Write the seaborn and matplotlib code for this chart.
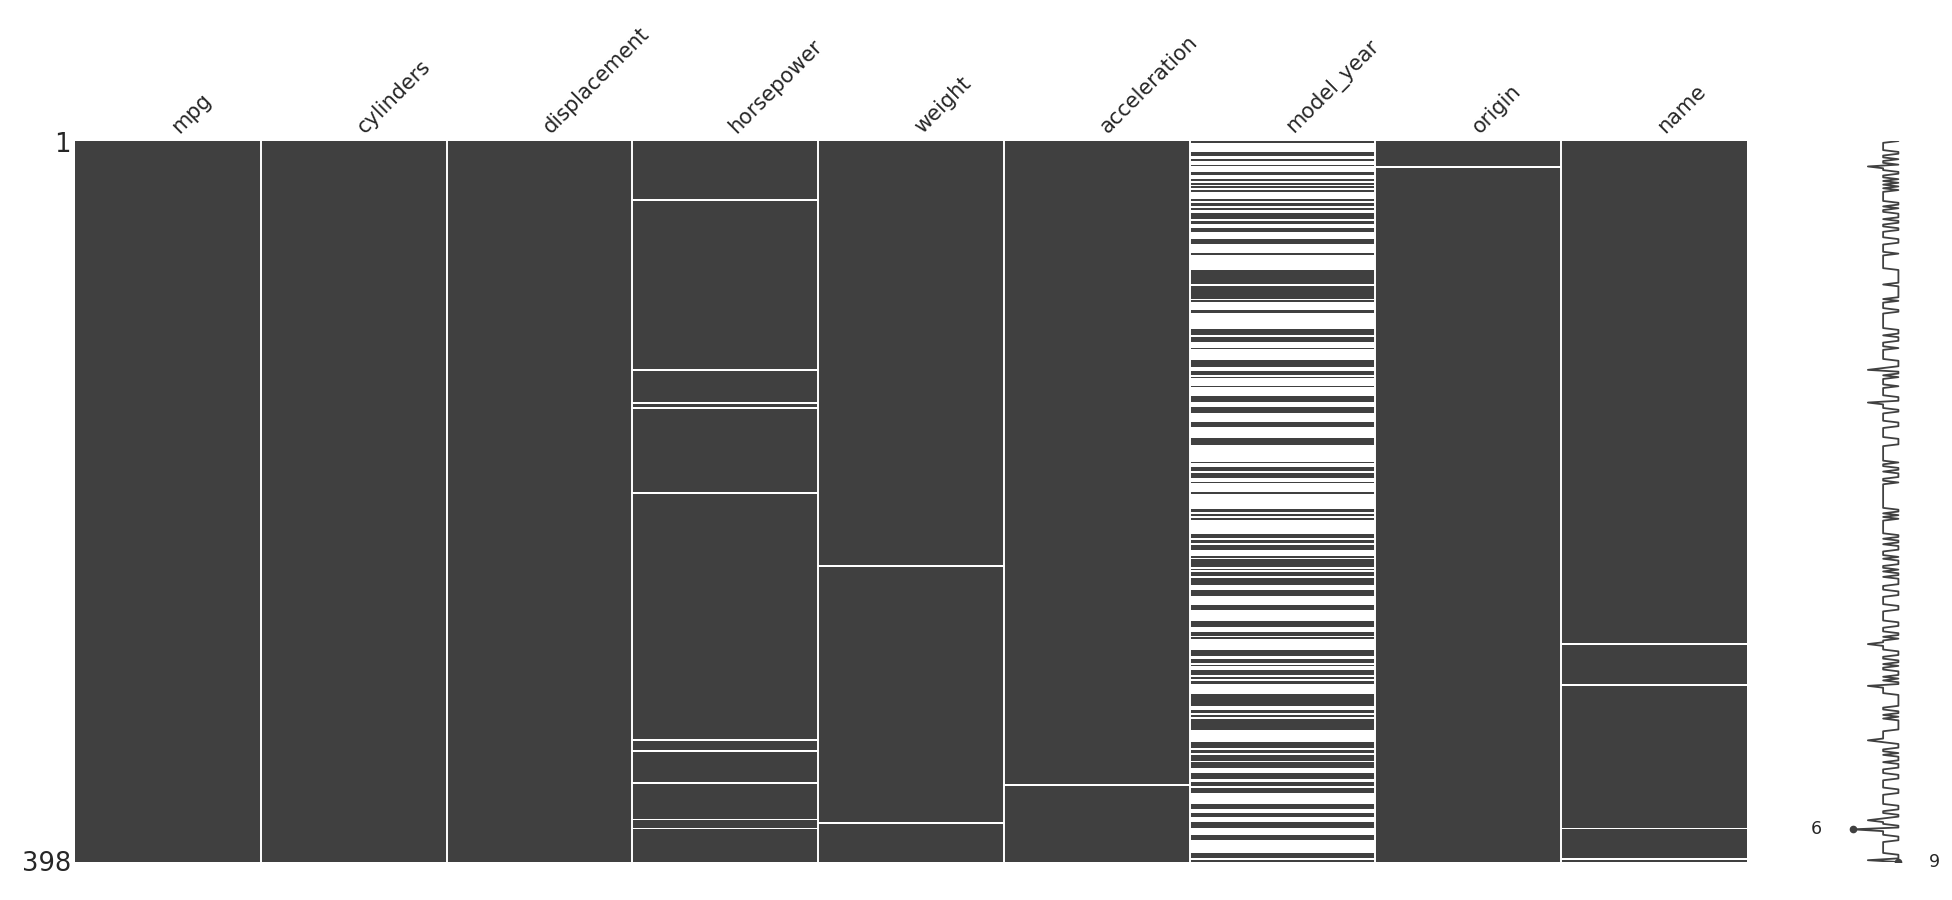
import numpy as np
import pandas as pd
import matplotlib
matplotlib.use("Agg")
import matplotlib.pyplot as plt
from matplotlib.colors import ListedColormap
import seaborn as sns

columns = ["mpg", "cylinders", "displacement", "horsepower", "weight",
           "acceleration", "model_year", "origin", "name"]
n_rows = 398

horsepower_missing = [32, 126, 144, 147, 194, 330, 336, 354, 374, 379]
weight_missing = [234, 376]
acceleration_missing = [355]
origin_missing = [14]
name_missing = [277, 300, 379, 396]

# model_year is mostly empty: these are the rows that do have a value
model_year_present = [
    0, 6, 7, 10, 13, 17, 18, 21, 23, 25, 27, 32, 34, 35, 37, 40, 41, 42,
    44, 45, 48, 49, 54, 55, 56, 62, 71, 72, 73, 74, 75, 76, 77, 78,
    80, 81, 82, 83, 84, 85, 86, 88, 93, 94,
    104, 105, 106, 108, 109, 110, 114, 121, 122, 123, 124, 127, 128, 130,
    135, 141, 142, 143, 147, 148, 149, 155, 156, 157, 164, 165, 166, 167,
    177, 180, 181, 183, 184, 185, 188, 194,
    203, 204, 206, 208, 217, 218, 220, 221, 223, 224, 225, 229,
    231, 232, 233, 234, 236, 238, 239, 241, 242, 243, 244, 248, 249, 250,
    256, 257, 258, 265, 266, 267, 271, 272, 274, 281, 282, 283, 286, 287,
    289, 292, 293, 294, 296, 298, 299,
    305, 306, 307, 308, 309, 310, 311, 314, 315, 317, 319, 320, 321, 322,
    323, 324, 332, 333, 334, 336, 337, 339, 340, 341, 343, 344, 345,
    349, 350, 351, 354, 355, 357, 358, 359, 366, 367, 368, 371, 372,
    376, 377, 378, 383, 384, 385, 393, 394, 395, 397,
]

DARK = "#404040"

present = pd.DataFrame(True, index=range(n_rows), columns=columns)
present.loc[horsepower_missing, "horsepower"] = False
present.loc[weight_missing, "weight"] = False
present.loc[acceleration_missing, "acceleration"] = False
present.loc[origin_missing, "origin"] = False
present.loc[name_missing, "name"] = False
present["model_year"] = present.index.isin(model_year_present)

completeness = present.sum(axis=1)

sns.set_style("white")
fig = plt.figure(figsize=(19.52, 9), dpi=100)
ax0 = fig.add_axes([0.0384, 0.0422, 0.8566, 0.8011])
ax1 = fig.add_axes([0.9334, 0.0422, 0.0548, 0.8011])

sns.heatmap(present.astype(int), cmap=ListedColormap(["white", DARK]),
            vmin=0, vmax=1, cbar=False, ax=ax0,
            xticklabels=False, yticklabels=False)

ax0.xaxis.tick_top()
ax0.set_xticks(np.arange(len(columns)) + 0.5)
ax0.set_xticklabels(columns, rotation=45, ha="left", fontsize=15)
ax0.set_yticks([0.5, n_rows - 0.5])
ax0.set_yticklabels(["1", str(n_rows)], fontsize=18.5, rotation=0)
ax0.tick_params(length=0, pad=3)
ax0.set_xlabel("")
ax0.set_ylabel("")
for x in range(1, len(columns)):
    ax0.axvline(x, color="white", lw=1.4)

# sparkline of row completeness
rows = np.arange(n_rows)
sns.lineplot(x=completeness.values, y=rows, orient="y", sort=True,
             estimator=None, color=DARK, lw=1.3, ax=ax1)
c_min, c_max = completeness.min(), completeness.max()
i_min = completeness[completeness == c_min].index[-1]
i_max = completeness[completeness == c_max].index[-1]
ax1.plot([c_min], [i_min], ".", color=DARK, markersize=9)
ax1.plot([c_max], [i_max], ".", color=DARK, markersize=9)
ax1.annotate(str(c_max), xy=(c_max, i_max), xytext=(c_max + 2, i_max),
             fontsize=12.5, va="center", ha="left")
ax1.annotate(str(c_min), xy=(c_min, i_min), xytext=(c_min - 2, i_min),
             fontsize=12.5, va="center", ha="right")
ax1.set_xlim(c_min - 2, c_max + 2)
ax1.set_ylim(n_rows - 1, 0)
ax1.set_xticks([])
ax1.set_yticks([])
ax1.set_xlabel("")
ax1.set_ylabel("")
for side in ["top", "right", "bottom", "left"]:
    ax1.spines[side].set_visible(False)

fig.savefig("out.png", dpi=100)
